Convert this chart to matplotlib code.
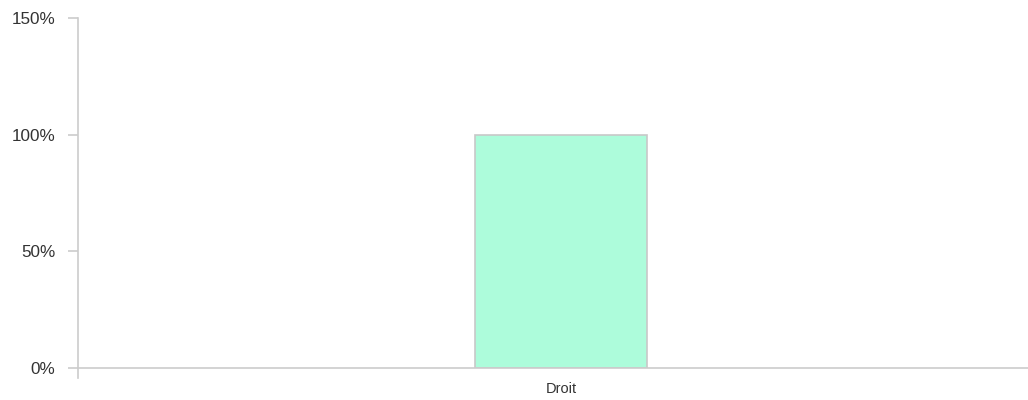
import matplotlib
matplotlib.use("Agg")
import matplotlib.pyplot as plt
from matplotlib.ticker import FuncFormatter

plt.rcParams['font.family'] = ['Liberation Sans', 'DejaVu Sans']

categories = ["Droit"]
values = [1.0]
yticks = [0, 0.5, 1.0, 1.5]

fig = plt.figure(figsize=(10.28, 4.0), dpi=100)
ax = fig.add_axes([78/1028, 1 - 368/400, 950/1028, 350/400])

ax.bar(range(len(categories)), values, width=0.178, color="#adfcdb",
       edgecolor="#c8c8c8", linewidth=1.2, zorder=2)

ax.set_xlim(-0.5, 0.4834)
ax.set_ylim(0, 1.5)
ax.set_yticks(yticks)
ax.yaxis.set_major_formatter(FuncFormatter(lambda v, p: f"{v*100:.0f}%"))
ax.set_xticks(range(len(categories)))
ax.set_xticklabels(categories)

for s in ["top", "right"]:
    ax.spines[s].set_visible(False)
ax.spines["left"].set_visible(False)
ax.spines["bottom"].set_color("#cccccc")
ax.spines["bottom"].set_linewidth(1.2)
# y axis line drops a little below the x axis
ax.plot([0, 0], [-10/350, 1], transform=ax.transAxes, color="#cccccc",
        lw=1.2, clip_on=False, zorder=3)

ax.tick_params(axis="y", length=7.5, width=1.2, color="#cccccc",
               labelsize=12.3, labelcolor="#333333", pad=9)
ax.tick_params(axis="x", length=0, labelsize=10.5, labelcolor="#333333", pad=10)

fig.savefig("out.png", dpi=100)
